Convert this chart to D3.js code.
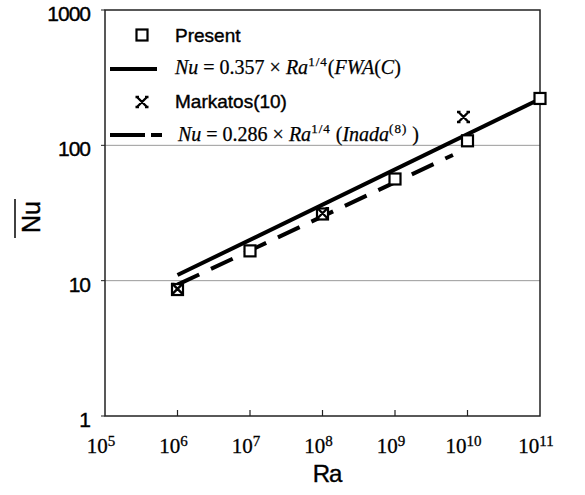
<!DOCTYPE html>
<html>
<head>
<meta charset="utf-8">
<script src="https://cdn.jsdelivr.net/npm/d3@7"></script>
<style>
  html, body { margin: 0; padding: 0; background: #fff; }
  svg { display: block; }
</style>
</head>
<body>
<svg id="chart" width="585" height="495"></svg>
<script>
// ---- data ----
const presentRa = [1e6, 1e7, 1e8, 1e9, 1e10, 1e11];
const presentNu = [8.6, 16.6, 31.1, 56.4, 108, 222];
const markatosRa = [1e6, 1e8, 1e10];
const markatosNu = [8.7, 31.5, 162];
const fwaLineRa = [1e6, 1e11];
const fwaLineNu = [11.0, 220];
const inadaLineRa = [1e6, 6.3e9];
const inadaLineNu = [9.34, 84.9];
const xTickExp = [5, 6, 7, 8, 9, 10, 11];
const yTicks = [1, 10, 100, 1000];
const gridValues = [10, 100];

const svg = d3.select("#chart");
const L = 105, R = 540, T = 10, B = 416;
const SANS = "'Liberation Sans', Arial, sans-serif";
const SERIF = "'Liberation Serif', 'Times New Roman', serif";

const x = d3.scaleLog().domain([1e5, 1e11]).range([L, R]);
const y = d3.scaleLog().domain([1, 1000]).range([B, T]);

// grid lines
svg.append("g").selectAll("line").data(gridValues).join("line")
  .attr("x1", L).attr("x2", R)
  .attr("y1", d => y(d)).attr("y2", d => y(d))
  .attr("stroke", "#9a9a9a").attr("stroke-width", 1);

// frame
svg.append("rect").attr("x", L).attr("y", T).attr("width", R - L).attr("height", B - T)
  .attr("fill", "none").attr("stroke", "#222").attr("stroke-width", 1.5);

// x ticks (inside, upward)
svg.append("g").selectAll("line").data(xTickExp.slice(1, -1)).join("line")
  .attr("x1", d => x(Math.pow(10, d))).attr("x2", d => x(Math.pow(10, d)))
  .attr("y1", B).attr("y2", B - 6)
  .attr("stroke", "#222").attr("stroke-width", 1.2);

// y tick marks (small, outside)
svg.append("g").selectAll("line").data(yTicks).join("line")
  .attr("x1", L - 4).attr("x2", L)
  .attr("y1", d => y(d)).attr("y2", d => y(d))
  .attr("stroke", "#222").attr("stroke-width", 1);

// y tick labels
svg.append("g").selectAll("text").data(yTicks).join("text")
  .attr("x", L - 15).attr("y", d => y(d) + 11)
  .attr("text-anchor", "end")
  .attr("font-family", SANS)
  .attr("font-size", 21)
  .attr("fill", "#000").attr("stroke", "#000").attr("stroke-width", 0.4)
  .attr("letter-spacing", -1)
  .text(d => d);

// x tick labels 10^n
const xl = svg.append("g").selectAll("text").data(xTickExp).join("text")
  .attr("x", d => x(Math.pow(10, d)) - 4).attr("y", 453)
  .attr("text-anchor", "middle")
  .attr("font-family", SERIF)
  .attr("font-size", 21)
  .attr("fill", "#000").attr("stroke", "#000").attr("stroke-width", 0.3);
xl.append("tspan").text("10");
xl.append("tspan").attr("dy", -7).attr("font-size", 15).text(d => d);

// axis titles
svg.append("text").attr("x", 327).attr("y", 482)
  .attr("text-anchor", "middle")
  .attr("font-family", SANS)
  .attr("font-size", 24).attr("fill", "#000").attr("stroke", "#000").attr("stroke-width", 0.4)
  .attr("letter-spacing", -1)
  .text("Ra");

svg.append("text")
  .attr("transform", "translate(40,217) rotate(-90)")
  .attr("text-anchor", "middle")
  .attr("font-family", SANS)
  .attr("font-size", 25).attr("fill", "#000").attr("stroke", "#000").attr("stroke-width", 0.4)
  .text("Nu");
svg.append("line").attr("x1", 15).attr("x2", 15).attr("y1", 199).attr("y2", 238)
  .attr("stroke", "#111").attr("stroke-width", 1.6);

// lines
const line = d3.line().x(d => x(d[0])).y(d => y(d[1]));
svg.append("path")
  .datum(fwaLineRa.map((r, i) => [r, fwaLineNu[i]]))
  .attr("d", line).attr("fill", "none")
  .attr("stroke", "#000").attr("stroke-width", 4);
svg.append("path")
  .datum(inadaLineRa.map((r, i) => [r, inadaLineNu[i]]))
  .attr("d", line).attr("fill", "none")
  .attr("stroke", "#000").attr("stroke-width", 4)
  .attr("stroke-dasharray", "24,13");

// markers
function square(g, cx, cy) {
  g.append("rect").attr("x", cx - 5.5).attr("y", cy - 5.5)
    .attr("width", 11).attr("height", 11)
    .attr("fill", "#fff").attr("stroke", "#000").attr("stroke-width", 2.2);
}
function star(g, cx, cy) {
  const s = 5;
  g.append("path")
    .attr("d", `M${cx - s},${cy - s}L${cx + s},${cy + s}M${cx + s},${cy - s}L${cx - s},${cy + s}` +
               `M${cx - s - 1.5},${cy - s}L${cx - s + 2},${cy - s}M${cx + s - 2},${cy - s}L${cx + s + 1.5},${cy - s}` +
               `M${cx - s - 1.5},${cy + s}L${cx - s + 2},${cy + s}M${cx + s - 2},${cy + s}L${cx + s + 1.5},${cy + s}`)
    .attr("fill", "none").attr("stroke", "#000").attr("stroke-width", 2.4);
}
const mk = svg.append("g");
presentRa.forEach((r, i) => square(mk, x(r), y(presentNu[i])));
markatosRa.forEach((r, i) => star(mk, x(r) - (i === 2 ? 4 : 0), y(markatosNu[i])));

// legend
const lg = svg.append("g");
square(lg, 142, 35);
lg.append("text").attr("x", 175).attr("y", 42)
  .attr("font-family", SANS)
  .attr("font-size", 19).attr("fill", "#000").attr("stroke", "#000").attr("stroke-width", 0.4)
  .text("Present");
lg.append("line").attr("x1", 110).attr("x2", 157).attr("y1", 69).attr("y2", 69)
  .attr("stroke", "#000").attr("stroke-width", 4);

function formula(xs, yb, parts) {
  const t = lg.append("text").attr("x", xs).attr("y", yb)
    .attr("font-family", SERIF)
    .attr("font-size", 20).attr("fill", "#000").attr("stroke", "#000").attr("stroke-width", 0.25);
  parts.forEach(p => {
    const s = t.append("tspan").text(p.t);
    if (p.i) s.attr("font-style", "italic");
    if (p.sup) s.attr("dy", -8).attr("font-size", 13).attr("letter-spacing", 1);
    if (p.down) s.attr("dy", 8);
  });
}
formula(175, 74, [
  {t: "Nu", i: true}, {t: " = 0.357 × "}, {t: "Ra", i: true},
  {t: "1/4", sup: true}, {t: "(", down: true}, {t: "FWA", i: true}, {t: "("}, {t: "C", i: true}, {t: ")"}
]);

star(lg, 142, 102);
lg.append("text").attr("x", 175).attr("y", 108)
  .attr("font-family", SANS)
  .attr("font-size", 19).attr("fill", "#000").attr("stroke", "#000").attr("stroke-width", 0.4)
  .text("Markatos(10)");
lg.append("line").attr("x1", 110).attr("x2", 162).attr("y1", 135).attr("y2", 135)
  .attr("stroke", "#000").attr("stroke-width", 4)
  .attr("stroke-dasharray", "35,6,11,100");
formula(178, 141, [
  {t: "Nu", i: true}, {t: " = 0.286 × "}, {t: "Ra", i: true},
  {t: "1/4", sup: true}, {t: " (", down: true}, {t: "Inada", i: true},
  {t: "(8)", sup: true}, {t: " )", down: true}
]);
</script>
</body>
</html>
